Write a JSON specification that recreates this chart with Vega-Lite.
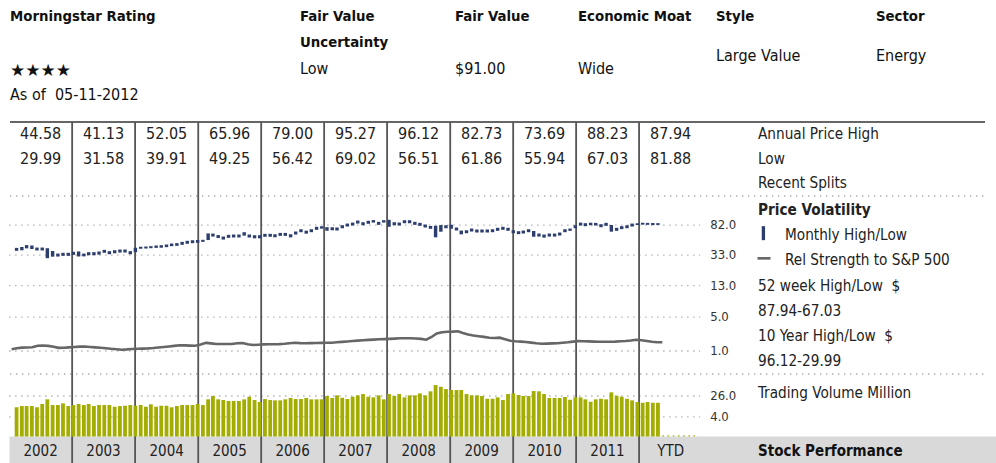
{
"$schema": "https://vega.github.io/schema/vega-lite/v6.json",
"width": 996, "height": 463, "padding": 0, "autosize": {"type": "none"},
"background": "white",
"config": {"view": {"stroke": null}, "axis": {"disable": true}, "legend": {"disable": true},
  "text": {"font": "DejaVu Sans Condensed, Liberation Sans Narrow, Liberation Sans, sans-serif"}},
"datasets": {
"monthly": [
{"d":"2002-01-15","hi":41.0,"lo":37.5,"rs":1.043,"vol":9.5},
{"d":"2002-02-15","hi":42.1,"lo":38.1,"rs":1.068,"vol":10.6},
{"d":"2002-03-15","hi":44.58,"lo":40.4,"rs":1.085,"vol":10.6},
{"d":"2002-04-15","hi":44.0,"lo":39.6,"rs":1.088,"vol":10.6},
{"d":"2002-05-15","hi":41.4,"lo":37.9,"rs":1.093,"vol":9.5},
{"d":"2002-06-15","hi":41.4,"lo":37.9,"rs":1.130,"vol":12.7},
{"d":"2002-07-15","hi":40.6,"lo":29.99,"rs":1.138,"vol":19.3},
{"d":"2002-08-15","hi":37.3,"lo":31.4,"rs":1.128,"vol":11.6},
{"d":"2002-09-15","hi":34.5,"lo":31.5,"rs":1.105,"vol":11.6},
{"d":"2002-10-15","hi":35.3,"lo":32.2,"rs":1.078,"vol":13.5},
{"d":"2002-11-15","hi":35.3,"lo":32.2,"rs":1.080,"vol":10.6},
{"d":"2002-12-15","hi":36.4,"lo":33.2,"rs":1.090,"vol":11.6},
{"d":"2003-01-15","hi":36.8,"lo":31.58,"rs":1.100,"vol":12.7},
{"d":"2003-02-15","hi":34.5,"lo":31.7,"rs":1.110,"vol":11.6},
{"d":"2003-03-15","hi":36.0,"lo":32.8,"rs":1.113,"vol":12.7},
{"d":"2003-04-15","hi":36.0,"lo":32.8,"rs":1.100,"vol":10.6},
{"d":"2003-05-15","hi":36.7,"lo":33.4,"rs":1.090,"vol":11.6},
{"d":"2003-06-15","hi":38.6,"lo":35.3,"rs":1.080,"vol":11.6},
{"d":"2003-07-15","hi":37.1,"lo":33.8,"rs":1.068,"vol":11.6},
{"d":"2003-08-15","hi":38.2,"lo":34.8,"rs":1.055,"vol":10.0},
{"d":"2003-09-15","hi":39.0,"lo":35.6,"rs":1.045,"vol":10.6},
{"d":"2003-10-15","hi":39.0,"lo":35.6,"rs":1.033,"vol":10.9},
{"d":"2003-11-15","hi":37.1,"lo":33.8,"rs":1.040,"vol":11.6},
{"d":"2003-12-15","hi":41.13,"lo":35.9,"rs":1.050,"vol":10.9},
{"d":"2004-01-15","hi":42.4,"lo":39.91,"rs":1.055,"vol":11.6},
{"d":"2004-02-15","hi":42.7,"lo":40.2,"rs":1.060,"vol":10.0},
{"d":"2004-03-15","hi":43.2,"lo":40.6,"rs":1.065,"vol":12.4},
{"d":"2004-04-15","hi":44.1,"lo":41.0,"rs":1.075,"vol":10.0},
{"d":"2004-05-15","hi":44.5,"lo":41.2,"rs":1.088,"vol":10.9},
{"d":"2004-06-15","hi":45.4,"lo":41.9,"rs":1.100,"vol":10.9},
{"d":"2004-07-15","hi":46.8,"lo":43.2,"rs":1.113,"vol":9.5},
{"d":"2004-08-15","hi":47.3,"lo":43.6,"rs":1.128,"vol":10.6},
{"d":"2004-09-15","hi":49.2,"lo":45.0,"rs":1.143,"vol":11.6},
{"d":"2004-10-15","hi":50.8,"lo":46.4,"rs":1.140,"vol":11.6},
{"d":"2004-11-15","hi":51.7,"lo":47.3,"rs":1.135,"vol":11.6},
{"d":"2004-12-15","hi":52.05,"lo":47.8,"rs":1.133,"vol":12.7},
{"d":"2005-01-15","hi":52.4,"lo":49.25,"rs":1.160,"vol":11.6},
{"d":"2005-02-15","hi":63.6,"lo":52.0,"rs":1.203,"vol":19.3},
{"d":"2005-03-15","hi":63.3,"lo":57.8,"rs":1.190,"vol":25.9},
{"d":"2005-04-15","hi":60.5,"lo":55.3,"rs":1.175,"vol":19.3},
{"d":"2005-05-15","hi":57.8,"lo":52.8,"rs":1.175,"vol":18.1},
{"d":"2005-06-15","hi":60.9,"lo":55.6,"rs":1.175,"vol":16.6},
{"d":"2005-07-15","hi":61.5,"lo":56.2,"rs":1.175,"vol":16.6},
{"d":"2005-08-15","hi":61.5,"lo":56.2,"rs":1.195,"vol":16.6},
{"d":"2005-09-15","hi":65.96,"lo":59.5,"rs":1.198,"vol":19.3},
{"d":"2005-10-15","hi":61.5,"lo":56.2,"rs":1.168,"vol":24.3},
{"d":"2005-11-15","hi":60.2,"lo":54.8,"rs":1.150,"vol":18.1},
{"d":"2005-12-15","hi":60.2,"lo":54.8,"rs":1.158,"vol":15.2},
{"d":"2006-01-15","hi":62.8,"lo":57.4,"rs":1.165,"vol":19.8},
{"d":"2006-02-15","hi":62.8,"lo":57.4,"rs":1.168,"vol":18.1},
{"d":"2006-03-15","hi":62.0,"lo":56.6,"rs":1.170,"vol":17.6},
{"d":"2006-04-15","hi":64.6,"lo":59.0,"rs":1.173,"vol":17.6},
{"d":"2006-05-15","hi":64.6,"lo":59.0,"rs":1.180,"vol":19.3},
{"d":"2006-06-15","hi":62.0,"lo":56.42,"rs":1.193,"vol":21.7},
{"d":"2006-07-15","hi":67.4,"lo":61.5,"rs":1.205,"vol":19.8},
{"d":"2006-08-15","hi":72.2,"lo":66.0,"rs":1.198,"vol":19.8},
{"d":"2006-09-15","hi":69.1,"lo":63.1,"rs":1.195,"vol":21.7},
{"d":"2006-10-15","hi":72.2,"lo":66.0,"rs":1.198,"vol":19.3},
{"d":"2006-11-15","hi":77.7,"lo":70.9,"rs":1.200,"vol":19.3},
{"d":"2006-12-15","hi":79.0,"lo":73.5,"rs":1.203,"vol":19.3},
{"d":"2007-01-15","hi":76.9,"lo":69.02,"rs":1.205,"vol":25.9},
{"d":"2007-02-15","hi":76.7,"lo":70.0,"rs":1.208,"vol":21.7},
{"d":"2007-03-15","hi":76.1,"lo":69.5,"rs":1.218,"vol":27.5},
{"d":"2007-04-15","hi":81.5,"lo":74.4,"rs":1.228,"vol":22.2},
{"d":"2007-05-15","hi":85.8,"lo":78.4,"rs":1.238,"vol":19.8},
{"d":"2007-06-15","hi":88.4,"lo":80.8,"rs":1.250,"vol":24.3},
{"d":"2007-07-15","hi":94.0,"lo":85.8,"rs":1.260,"vol":27.5},
{"d":"2007-08-15","hi":89.3,"lo":81.5,"rs":1.270,"vol":30.9},
{"d":"2007-09-15","hi":93.3,"lo":85.2,"rs":1.278,"vol":24.3},
{"d":"2007-10-15","hi":95.27,"lo":88.4,"rs":1.285,"vol":23.0},
{"d":"2007-11-15","hi":90.4,"lo":82.5,"rs":1.293,"vol":27.5},
{"d":"2007-12-15","hi":95.0,"lo":88.4,"rs":1.298,"vol":19.3},
{"d":"2008-01-15","hi":96.12,"lo":77.8,"rs":1.303,"vol":30.9},
{"d":"2008-02-15","hi":89.3,"lo":81.5,"rs":1.310,"vol":25.9},
{"d":"2008-03-15","hi":88.4,"lo":80.8,"rs":1.318,"vol":30.9},
{"d":"2008-04-15","hi":94.9,"lo":86.6,"rs":1.318,"vol":23.0},
{"d":"2008-05-15","hi":94.9,"lo":86.6,"rs":1.318,"vol":27.5},
{"d":"2008-06-15","hi":90.4,"lo":82.5,"rs":1.313,"vol":27.5},
{"d":"2008-07-15","hi":87.7,"lo":80.0,"rs":1.303,"vol":32.9},
{"d":"2008-08-15","hi":83.3,"lo":76.1,"rs":1.283,"vol":27.5},
{"d":"2008-09-15","hi":79.6,"lo":73.1,"rs":1.350,"vol":39.4},
{"d":"2008-10-15","hi":80.2,"lo":56.51,"rs":1.438,"vol":69.0},
{"d":"2008-11-15","hi":82.0,"lo":67.0,"rs":1.470,"vol":59.3},
{"d":"2008-12-15","hi":81.5,"lo":74.4,"rs":1.480,"vol":48.3},
{"d":"2009-01-15","hi":82.73,"lo":73.3,"rs":1.485,"vol":44.2},
{"d":"2009-02-15","hi":76.1,"lo":69.5,"rs":1.493,"vol":44.2},
{"d":"2009-03-15","hi":69.4,"lo":61.86,"rs":1.450,"vol":44.2},
{"d":"2009-04-15","hi":70.0,"lo":64.0,"rs":1.410,"vol":30.9},
{"d":"2009-05-15","hi":73.8,"lo":67.4,"rs":1.388,"vol":27.5},
{"d":"2009-06-15","hi":71.6,"lo":65.4,"rs":1.370,"vol":27.5},
{"d":"2009-07-15","hi":71.6,"lo":65.4,"rs":1.353,"vol":25.9},
{"d":"2009-08-15","hi":71.6,"lo":65.4,"rs":1.333,"vol":20.3},
{"d":"2009-09-15","hi":72.2,"lo":66.0,"rs":1.325,"vol":20.3},
{"d":"2009-10-15","hi":75.4,"lo":68.8,"rs":1.333,"vol":23.0},
{"d":"2009-11-15","hi":77.7,"lo":70.9,"rs":1.295,"vol":18.1},
{"d":"2009-12-15","hi":75.4,"lo":68.8,"rs":1.258,"vol":30.9},
{"d":"2010-01-15","hi":70.0,"lo":64.0,"rs":1.245,"vol":32.9},
{"d":"2010-02-15","hi":68.0,"lo":62.2,"rs":1.235,"vol":28.3},
{"d":"2010-03-15","hi":69.4,"lo":63.4,"rs":1.225,"vol":25.9},
{"d":"2010-04-15","hi":72.2,"lo":66.0,"rs":1.210,"vol":25.9},
{"d":"2010-05-15","hi":68.4,"lo":57.5,"rs":1.193,"vol":40.4},
{"d":"2010-06-15","hi":63.3,"lo":57.8,"rs":1.183,"vol":39.4},
{"d":"2010-07-15","hi":61.5,"lo":55.94,"rs":1.185,"vol":30.9},
{"d":"2010-08-15","hi":63.3,"lo":57.8,"rs":1.190,"vol":21.7},
{"d":"2010-09-15","hi":63.3,"lo":57.8,"rs":1.195,"vol":21.7},
{"d":"2010-10-15","hi":65.3,"lo":59.7,"rs":1.208,"vol":21.7},
{"d":"2010-11-15","hi":72.2,"lo":66.0,"rs":1.220,"vol":23.7},
{"d":"2010-12-15","hi":73.69,"lo":68.8,"rs":1.235,"vol":18.6},
{"d":"2011-01-15","hi":81.5,"lo":74.4,"rs":1.248,"vol":23.0},
{"d":"2011-02-15","hi":88.23,"lo":80.8,"rs":1.245,"vol":23.0},
{"d":"2011-03-15","hi":86.7,"lo":79.2,"rs":1.240,"vol":19.3},
{"d":"2011-04-15","hi":88.0,"lo":81.5,"rs":1.235,"vol":15.6},
{"d":"2011-05-15","hi":87.5,"lo":80.8,"rs":1.233,"vol":19.3},
{"d":"2011-06-15","hi":84.1,"lo":76.8,"rs":1.233,"vol":20.3},
{"d":"2011-07-15","hi":87.7,"lo":80.0,"rs":1.233,"vol":19.3},
{"d":"2011-08-15","hi":82.0,"lo":67.03,"rs":1.235,"vol":36.0},
{"d":"2011-09-15","hi":75.4,"lo":68.8,"rs":1.243,"vol":26.6},
{"d":"2011-10-15","hi":79.2,"lo":72.4,"rs":1.250,"vol":24.3},
{"d":"2011-11-15","hi":81.5,"lo":74.4,"rs":1.263,"vol":20.3},
{"d":"2011-12-15","hi":85.8,"lo":78.4,"rs":1.280,"vol":17.6},
{"d":"2012-01-15","hi":86.5,"lo":82.0,"rs":1.268,"vol":15.2},
{"d":"2012-02-15","hi":87.94,"lo":83.0,"rs":1.250,"vol":14.2},
{"d":"2012-03-15","hi":87.5,"lo":82.5,"rs":1.230,"vol":15.2},
{"d":"2012-04-15","hi":87.2,"lo":81.88,"rs":1.218,"vol":14.2},
{"d":"2012-05-15","hi":86.8,"lo":82.3,"rs":1.218,"vol":14.2},
{"d":"2012-06-15","vol":0},
{"d":"2012-07-15","vol":0},
{"d":"2012-08-15","vol":0},
{"d":"2012-09-15","vol":0},
{"d":"2012-10-15","vol":0},
{"d":"2012-11-15","vol":0},
{"d":"2012-12-15","vol":0}
],
"annual": [
{"label":"2002","d":"2002-07-02","high":44.58,"low":29.99},
{"label":"2003","d":"2003-07-02","high":41.13,"low":31.58},
{"label":"2004","d":"2004-07-02","high":52.05,"low":39.91},
{"label":"2005","d":"2005-07-02","high":65.96,"low":49.25},
{"label":"2006","d":"2006-07-02","high":79.00,"low":56.42},
{"label":"2007","d":"2007-07-02","high":95.27,"low":69.02},
{"label":"2008","d":"2008-07-02","high":96.12,"low":56.51},
{"label":"2009","d":"2009-07-02","high":82.73,"low":61.86},
{"label":"2010","d":"2010-07-02","high":73.69,"low":55.94},
{"label":"2011","d":"2011-07-02","high":88.23,"low":67.03},
{"label":"YTD","d":"2012-07-02","high":87.94,"low":81.88}
],
"bounds": [
{"d":"2003-01-01"},{"d":"2004-01-01"},{"d":"2005-01-01"},{"d":"2006-01-01"},{"d":"2007-01-01"},
{"d":"2008-01-01"},{"d":"2009-01-01"},{"d":"2010-01-01"},{"d":"2011-01-01"},{"d":"2012-01-01"}
],
"grid": [
{"section":"price","v":82},{"section":"price","v":33},{"section":"price","v":13},{"section":"price","v":5},
{"section":"rel","v":1},
{"section":"volume","v":26},{"section":"volume","v":4}
],
"header": [
{"col":"Morningstar Rating","kind":"title","line":"l1","text":"Morningstar Rating"},
{"col":"Morningstar Rating","kind":"value","line":"l4","text":"As of\u00a0 05-11-2012"},
{"col":"Fair Value Uncertainty","kind":"title","line":"l1","text":"Fair Value"},
{"col":"Fair Value Uncertainty","kind":"title","line":"l2","text":"Uncertainty"},
{"col":"Fair Value Uncertainty","kind":"value","line":"l3","text":"Low"},
{"col":"Fair Value","kind":"title","line":"l1","text":"Fair Value"},
{"col":"Fair Value","kind":"value","line":"l3","text":"$91.00"},
{"col":"Economic Moat","kind":"title","line":"l1","text":"Economic Moat"},
{"col":"Economic Moat","kind":"value","line":"l3","text":"Wide"},
{"col":"Style","kind":"title","line":"l1","text":"Style"},
{"col":"Style","kind":"value","line":"l2.5","text":"Large Value"},
{"col":"Sector","kind":"title","line":"l1","text":"Sector"},
{"col":"Sector","kind":"value","line":"l2.5","text":"Energy"}
],
"rating": [
{"col":"Morningstar Rating","line":"l3","stars":"★★★★"}
],
"legendA": [
{"row":"high","text":"Annual Price High"},{"row":"low","text":"Low"},{"row":"splits","text":"Recent Splits"}
],
"legendB": [
{"key":"pv","kind":"title","text":"Price Volatility"},
{"key":"mhl","kind":"item","text":"Monthly High/Low"},
{"key":"rs","kind":"item","text":"Rel Strength to S&P 500"},
{"key":"w52","kind":"stat","text":"52 week High/Low\u00a0 $"},
{"key":"w52v","kind":"stat","text":"87.94-67.03"},
{"key":"y10","kind":"stat","text":"10 Year High/Low\u00a0 $"},
{"key":"y10v","kind":"stat","text":"96.12-29.99"}
]
},
"resolve": {"scale": {"x": "independent", "y": "independent"}},
"layer": [
{"data": {"values": [{"part": "Stock Performance band"}]},
 "mark": {"type": "rect", "color": "#d9d9d9"},
 "encoding": {
  "x": {"datum": 0, "type": "quantitative", "scale": {"domain": [0, 1], "range": [9.5, 996], "nice": false, "zero": false}},
  "x2": {"datum": 1},
  "y": {"datum": 0, "type": "quantitative", "scale": {"domain": [0, 1], "range": [436.5, 463], "nice": false, "zero": false}},
  "y2": {"datum": 1}}},
{"data": {"name": "grid"}, "transform": [{"filter": "datum.section === 'price'"}],
 "mark": {"type": "rule", "color": "#a8a8a8", "strokeWidth": 1.3, "strokeDash": [1.3, 4.7]},
 "encoding": {
  "x": {"datum": {"year": 2002, "month": 1, "date": 1, "utc": true}, "type": "temporal", "scale": {"type": "utc", "domain": [{"year": 2002, "month": 1, "date": 1, "utc": true}, {"year": 2013, "month": 1, "date": 1, "utc": true}], "range": [9.2, 702.2]}},
  "x2": {"datum": {"year": 2012, "month": 12, "date": 20, "utc": true}},
  "y": {"field": "v", "type": "quantitative", "scale": {"type": "log", "domain": [5, 198], "range": [317.2, 196], "nice": false}}}},
{"data": {"name": "grid"}, "transform": [{"filter": "datum.section === 'rel'"}],
 "mark": {"type": "rule", "color": "#a8a8a8", "strokeWidth": 1.3, "strokeDash": [1.3, 4.7]},
 "encoding": {
  "x": {"datum": {"year": 2002, "month": 1, "date": 1, "utc": true}, "type": "temporal", "scale": {"type": "utc", "domain": [{"year": 2002, "month": 1, "date": 1, "utc": true}, {"year": 2013, "month": 1, "date": 1, "utc": true}], "range": [9.2, 702.2]}},
  "x2": {"datum": {"year": 2012, "month": 12, "date": 20, "utc": true}},
  "y": {"field": "v", "type": "quantitative", "scale": {"type": "linear", "domain": [1, 2], "range": [351, 311], "nice": false, "zero": false}}}},
{"data": {"name": "grid"}, "transform": [{"filter": "datum.section === 'volume'"}],
 "mark": {"type": "rule", "color": "#a8a8a8", "strokeWidth": 1.3, "strokeDash": [1.3, 4.7]},
 "encoding": {
  "x": {"datum": {"year": 2002, "month": 1, "date": 1, "utc": true}, "type": "temporal", "scale": {"type": "utc", "domain": [{"year": 2002, "month": 1, "date": 1, "utc": true}, {"year": 2013, "month": 1, "date": 1, "utc": true}], "range": [9.2, 702.2]}},
  "x2": {"datum": {"year": 2012, "month": 12, "date": 20, "utc": true}},
  "y": {"field": "v", "type": "quantitative", "scale": {"type": "log", "domain": [0.7, 185], "range": [436.5, 374], "nice": false}}}},
{"data": {"values": [{"part": "price section top"}]},
 "mark": {"type": "rule", "color": "#a8a8a8", "strokeWidth": 1.3, "strokeDash": [1.3, 4.7]},
 "encoding": {
  "x": {"datum": 0, "type": "quantitative", "scale": {"domain": [0, 1], "range": [10, 985], "nice": false, "zero": false}},
  "x2": {"datum": 1},
  "y": {"datum": 198, "type": "quantitative", "scale": {"type": "log", "domain": [5, 198], "range": [317.2, 196], "nice": false}}}},
{"data": {"values": [{"part": "volume section top"}]},
 "mark": {"type": "rule", "color": "#a8a8a8", "strokeWidth": 1.3, "strokeDash": [1.3, 4.7]},
 "encoding": {
  "x": {"datum": 0, "type": "quantitative", "scale": {"domain": [0, 1], "range": [10, 985], "nice": false, "zero": false}},
  "x2": {"datum": 1},
  "y": {"datum": 185, "type": "quantitative", "scale": {"type": "log", "domain": [0.7, 185], "range": [436.5, 374], "nice": false}}}},
{"data": {"values": [{"part": "table top"}]},
 "mark": {"type": "rule", "color": "#333333", "strokeWidth": 1.5},
 "encoding": {
  "x": {"datum": 0, "type": "quantitative", "scale": {"domain": [0, 1], "range": [10, 985], "nice": false, "zero": false}},
  "x2": {"datum": 1},
  "y": {"datum": 0, "type": "quantitative", "scale": {"domain": [0, 1], "range": [122, 463], "nice": false, "zero": false}}}},
{"data": {"name": "bounds"},
 "mark": {"type": "rule", "color": "#555555", "strokeWidth": 1.8},
 "encoding": {
  "x": {"field": "d", "type": "temporal", "scale": {"type": "utc", "domain": [{"year": 2002, "month": 1, "date": 1, "utc": true}, {"year": 2013, "month": 1, "date": 1, "utc": true}], "range": [9.2, 702.2]}},
  "y": {"datum": 0, "type": "quantitative", "scale": {"domain": [0, 1], "range": [122, 463], "nice": false, "zero": false}},
  "y2": {"datum": 1}}},
{"data": {"name": "monthly"}, "transform": [{"filter": "datum.vol > 0"}],
 "mark": {"type": "bar", "color": "#a3ad00", "width": 3.8},
 "encoding": {
  "x": {"field": "d", "type": "temporal", "scale": {"type": "utc", "domain": [{"year": 2002, "month": 1, "date": 1, "utc": true}, {"year": 2013, "month": 1, "date": 1, "utc": true}], "range": [9.2, 702.2]}},
  "y": {"field": "vol", "type": "quantitative", "scale": {"type": "log", "domain": [0.7, 185], "range": [436.5, 374], "nice": false}},
  "y2": {"datum": 0.7}}},
{"data": {"name": "monthly"}, "transform": [{"filter": "datum.vol === 0"}],
 "mark": {"type": "bar", "color": "#a3ad00", "width": 1.5},
 "encoding": {
  "x": {"field": "d", "type": "temporal", "scale": {"type": "utc", "domain": [{"year": 2002, "month": 1, "date": 1, "utc": true}, {"year": 2013, "month": 1, "date": 1, "utc": true}], "range": [9.2, 702.2]}},
  "y": {"datum": 0.78, "type": "quantitative", "scale": {"type": "log", "domain": [0.7, 185], "range": [436.5, 374], "nice": false}},
  "y2": {"datum": 0.7}}},
{"data": {"name": "monthly"}, "transform": [{"filter": "isValid(datum.rs)"}],
 "mark": {"type": "line", "color": "#666666", "strokeWidth": 2.6},
 "encoding": {
  "x": {"field": "d", "type": "temporal", "scale": {"type": "utc", "domain": [{"year": 2002, "month": 1, "date": 1, "utc": true}, {"year": 2013, "month": 1, "date": 1, "utc": true}], "range": [9.2, 702.2]}},
  "y": {"field": "rs", "type": "quantitative", "scale": {"type": "linear", "domain": [1, 2], "range": [351, 311], "nice": false, "zero": false}}}},
{"data": {"name": "monthly"}, "transform": [{"filter": "isValid(datum.hi)"}],
 "mark": {"type": "bar", "color": "#2c3d6e", "width": 3.4},
 "encoding": {
  "x": {"field": "d", "type": "temporal", "scale": {"type": "utc", "domain": [{"year": 2002, "month": 1, "date": 1, "utc": true}, {"year": 2013, "month": 1, "date": 1, "utc": true}], "range": [9.2, 702.2]}},
  "y": {"field": "hi", "type": "quantitative", "scale": {"type": "log", "domain": [5, 198], "range": [317.2, 196], "nice": false}},
  "y2": {"field": "lo"}}},
{"data": {"name": "annual"}, "transform": [{"fold": ["high", "low"], "as": ["row", "value"]}],
 "mark": {"type": "text", "fontSize": 16, "color": "#222222", "align": "center", "baseline": "middle"},
 "encoding": {
  "x": {"field": "d", "type": "temporal", "scale": {"type": "utc", "domain": [{"year": 2002, "month": 1, "date": 1, "utc": true}, {"year": 2013, "month": 1, "date": 1, "utc": true}], "range": [9.2, 702.2]}},
  "y": {"field": "row", "type": "nominal", "scale": {"type": "point", "domain": ["high", "low", "splits"], "range": [134, 183], "padding": 0}},
  "text": {"field": "value", "type": "quantitative", "format": ".2f"}}},
{"data": {"name": "annual"},
 "mark": {"type": "text", "fontSize": 15, "color": "#222222", "align": "center", "baseline": "middle"},
 "encoding": {
  "x": {"field": "d", "type": "temporal", "scale": {"type": "utc", "domain": [{"year": 2002, "month": 1, "date": 1, "utc": true}, {"year": 2013, "month": 1, "date": 1, "utc": true}], "range": [9.2, 702.2]}},
  "y": {"datum": 0.54, "type": "quantitative", "scale": {"domain": [0, 1], "range": [436.5, 463], "nice": false, "zero": false}},
  "text": {"field": "label", "type": "nominal"}}},
{"data": {"name": "grid"}, "transform": [{"filter": "datum.section === 'price'"}],
 "mark": {"type": "text", "fontSize": 13, "color": "#333333", "align": "left", "baseline": "middle", "dx": 8},
 "encoding": {
  "x": {"datum": {"year": 2013, "month": 1, "date": 1, "utc": true}, "type": "temporal", "scale": {"type": "utc", "domain": [{"year": 2002, "month": 1, "date": 1, "utc": true}, {"year": 2013, "month": 1, "date": 1, "utc": true}], "range": [9.2, 702.2]}},
  "y": {"field": "v", "type": "quantitative", "scale": {"type": "log", "domain": [5, 198], "range": [317.2, 196], "nice": false}},
  "text": {"field": "v", "type": "quantitative", "format": ".1f"}}},
{"data": {"name": "grid"}, "transform": [{"filter": "datum.section === 'rel'"}],
 "mark": {"type": "text", "fontSize": 13, "color": "#333333", "align": "left", "baseline": "middle", "dx": 8},
 "encoding": {
  "x": {"datum": {"year": 2013, "month": 1, "date": 1, "utc": true}, "type": "temporal", "scale": {"type": "utc", "domain": [{"year": 2002, "month": 1, "date": 1, "utc": true}, {"year": 2013, "month": 1, "date": 1, "utc": true}], "range": [9.2, 702.2]}},
  "y": {"field": "v", "type": "quantitative", "scale": {"type": "linear", "domain": [1, 2], "range": [351, 311], "nice": false, "zero": false}},
  "text": {"field": "v", "type": "quantitative", "format": ".1f"}}},
{"data": {"name": "grid"}, "transform": [{"filter": "datum.section === 'volume'"}],
 "mark": {"type": "text", "fontSize": 13, "color": "#333333", "align": "left", "baseline": "middle", "dx": 8},
 "encoding": {
  "x": {"datum": {"year": 2013, "month": 1, "date": 1, "utc": true}, "type": "temporal", "scale": {"type": "utc", "domain": [{"year": 2002, "month": 1, "date": 1, "utc": true}, {"year": 2013, "month": 1, "date": 1, "utc": true}], "range": [9.2, 702.2]}},
  "y": {"field": "v", "type": "quantitative", "scale": {"type": "log", "domain": [0.7, 185], "range": [436.5, 374], "nice": false}},
  "text": {"field": "v", "type": "quantitative", "format": ".1f"}}},
{"data": {"name": "legendA"},
 "mark": {"type": "text", "fontSize": 15.2, "color": "#222222", "align": "left", "baseline": "middle"},
 "encoding": {
  "x": {"datum": 0, "type": "quantitative", "scale": {"domain": [0, 1], "range": [758, 785], "nice": false, "zero": false}},
  "y": {"field": "row", "type": "nominal", "scale": {"type": "point", "domain": ["high", "low", "splits"], "range": [134, 183], "padding": 0}},
  "text": {"field": "text", "type": "nominal"}}},
{"data": {"name": "legendB"}, "transform": [{"filter": "datum.kind !== 'item'"}],
 "mark": {"type": "text", "fontSize": 15.2, "color": "#222222", "align": "left", "baseline": "middle", "fontWeight": {"expr": "datum.kind === 'title' ? 'bold' : 'normal'"}},
 "encoding": {
  "x": {"datum": 0, "type": "quantitative", "scale": {"domain": [0, 1], "range": [758, 785], "nice": false, "zero": false}},
  "y": {"field": "key", "type": "nominal", "scale": {"type": "point", "domain": ["pv", "mhl", "rs", "w52", "w52v", "y10", "y10v"], "range": [210, 361], "padding": 0}},
  "text": {"field": "text", "type": "nominal"}}},
{"data": {"name": "legendB"}, "transform": [{"filter": "datum.kind === 'item'"}],
 "mark": {"type": "text", "fontSize": 15.2, "color": "#222222", "align": "left", "baseline": "middle"},
 "encoding": {
  "x": {"datum": 1, "type": "quantitative", "scale": {"domain": [0, 1], "range": [758, 785], "nice": false, "zero": false}},
  "y": {"field": "key", "type": "nominal", "scale": {"type": "point", "domain": ["pv", "mhl", "rs", "w52", "w52v", "y10", "y10v"], "range": [210, 361], "padding": 0}},
  "text": {"field": "text", "type": "nominal"}}},
{"data": {"name": "legendB"}, "transform": [{"filter": "datum.key === 'mhl'"}],
 "mark": {"type": "tick", "color": "#2c3d6e", "orient": "vertical", "size": 14, "thickness": 3.3, "opacity": 1},
 "encoding": {
  "x": {"datum": 0.2, "type": "quantitative", "scale": {"domain": [0, 1], "range": [758, 785], "nice": false, "zero": false}},
  "y": {"field": "key", "type": "nominal", "scale": {"type": "point", "domain": ["pv", "mhl", "rs", "w52", "w52v", "y10", "y10v"], "range": [208, 359], "padding": 0}}}},
{"data": {"name": "legendB"}, "transform": [{"filter": "datum.key === 'rs'"}],
 "mark": {"type": "tick", "color": "#666666", "orient": "horizontal", "size": 13, "thickness": 2.6, "opacity": 1},
 "encoding": {
  "x": {"datum": 0.222, "type": "quantitative", "scale": {"domain": [0, 1], "range": [758, 785], "nice": false, "zero": false}},
  "y": {"field": "key", "type": "nominal", "scale": {"type": "point", "domain": ["pv", "mhl", "rs", "w52", "w52v", "y10", "y10v"], "range": [208, 359], "padding": 0}}}},
{"data": {"values": [{"text": "Trading Volume Million"}]},
 "mark": {"type": "text", "fontSize": 15.2, "color": "#222222", "align": "left", "baseline": "middle", "dy": -3},
 "encoding": {
  "x": {"datum": 0, "type": "quantitative", "scale": {"domain": [0, 1], "range": [758, 785], "nice": false, "zero": false}},
  "y": {"datum": 26, "type": "quantitative", "scale": {"type": "log", "domain": [0.7, 185], "range": [436.5, 374], "nice": false}},
  "text": {"field": "text", "type": "nominal"}}},
{"data": {"values": [{"text": "Stock Performance"}]},
 "mark": {"type": "text", "fontSize": 15, "fontWeight": "bold", "color": "#111111", "align": "left", "baseline": "middle"},
 "encoding": {
  "x": {"datum": 0, "type": "quantitative", "scale": {"domain": [0, 1], "range": [758, 785], "nice": false, "zero": false}},
  "y": {"datum": 0.54, "type": "quantitative", "scale": {"domain": [0, 1], "range": [436.5, 463], "nice": false, "zero": false}},
  "text": {"field": "text", "type": "nominal"}}},
{"data": {"name": "rating"},
 "mark": {"type": "text", "fontSize": 17, "color": "#111111", "align": "left", "baseline": "middle", "font": "DejaVu Sans", "dy": 2},
 "encoding": {
  "x": {"field": "col", "type": "nominal", "scale": {"type": "point", "domain": ["Morningstar Rating", "Fair Value Uncertainty"], "range": [10, 300], "padding": 0}},
  "y": {"field": "line", "type": "nominal", "scale": {"type": "point", "domain": ["l1", "l1.5", "l2", "l2.5", "l3", "l3.5", "l4"], "range": [17, 95], "padding": 0}},
  "text": {"field": "stars", "type": "nominal"}}},
{"data": {"name": "header"}, "transform": [{"filter": {"field": "col", "oneOf": ["Morningstar Rating", "Fair Value Uncertainty"]}}],
 "mark": {"type": "text", "fontSize": {"expr": "datum.kind === 'title' ? 14.8 : 16"}, "color": "#111111", "align": "left", "baseline": "middle", "fontWeight": {"expr": "datum.kind === 'title' ? 'bold' : 'normal'"}},
 "encoding": {
  "x": {"field": "col", "type": "nominal", "scale": {"type": "point", "domain": ["Morningstar Rating", "Fair Value Uncertainty"], "range": [10, 300], "padding": 0}},
  "y": {"field": "line", "type": "nominal", "scale": {"type": "point", "domain": ["l1", "l1.5", "l2", "l2.5", "l3", "l3.5", "l4"], "range": [17, 95], "padding": 0}},
  "text": {"field": "text", "type": "nominal"}}},
{"data": {"name": "header"}, "transform": [{"filter": {"field": "col", "oneOf": ["Fair Value", "Economic Moat"]}}],
 "mark": {"type": "text", "fontSize": {"expr": "datum.kind === 'title' ? 14.8 : 16"}, "color": "#111111", "align": "left", "baseline": "middle", "fontWeight": {"expr": "datum.kind === 'title' ? 'bold' : 'normal'"}},
 "encoding": {
  "x": {"field": "col", "type": "nominal", "scale": {"type": "point", "domain": ["Fair Value", "Economic Moat"], "range": [455, 578], "padding": 0}},
  "y": {"field": "line", "type": "nominal", "scale": {"type": "point", "domain": ["l1", "l1.5", "l2", "l2.5", "l3", "l3.5", "l4"], "range": [17, 95], "padding": 0}},
  "text": {"field": "text", "type": "nominal"}}},
{"data": {"name": "header"}, "transform": [{"filter": {"field": "col", "oneOf": ["Style", "Sector"]}}],
 "mark": {"type": "text", "fontSize": {"expr": "datum.kind === 'title' ? 14.8 : 16"}, "color": "#111111", "align": "left", "baseline": "middle", "fontWeight": {"expr": "datum.kind === 'title' ? 'bold' : 'normal'"}},
 "encoding": {
  "x": {"field": "col", "type": "nominal", "scale": {"type": "point", "domain": ["Style", "Sector"], "range": [716, 876], "padding": 0}},
  "y": {"field": "line", "type": "nominal", "scale": {"type": "point", "domain": ["l1", "l1.5", "l2", "l2.5", "l3", "l3.5", "l4"], "range": [17, 95], "padding": 0}},
  "text": {"field": "text", "type": "nominal"}}}
]
}
